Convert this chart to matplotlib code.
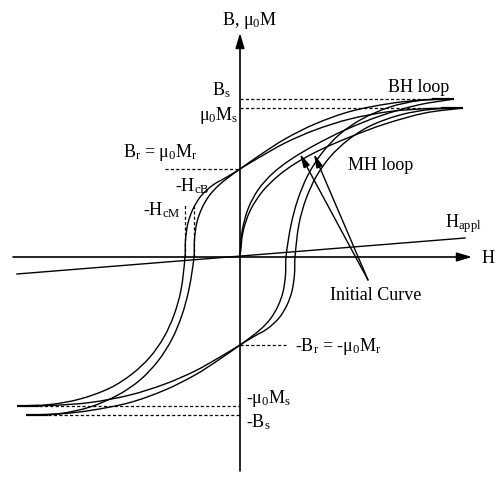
import numpy as np
import matplotlib
matplotlib.use("Agg")
import matplotlib.pyplot as plt
from matplotlib.path import Path
from matplotlib.patches import PathPatch

plt.rcParams["font.family"] = ["Liberation Serif", "DejaVu Serif"]
plt.rcParams["mathtext.fontset"] = "custom"
plt.rcParams["mathtext.rm"] = "Liberation Serif"
plt.rcParams["mathtext.it"] = "Liberation Serif:italic"

# Characteristic values of the two loops (H and B in drawing units)
H_MAX_M, SAT_M = 223, 149      # MH loop: saturation mu0*Ms
H_MAX_B, SAT_B = 214, 158      # BH loop: saturation Bs
B_R = 88                       # remanence Br = mu0*Mr
HC_M, HC_B = 55, 46            # coercive fields HcM, HcB

# Descending (upper) branches, H increasing
h_mh_up = [-223, -190, -160, -130, -108, -90, -76, -66, -59, -55,
           -54.5, -52, -47, -39, -27, -13, 0, 20, 45, 75, 110, 150, 190, 223]
b_mh_up = [-149, -147.5, -142, -131, -117, -100, -80, -58, -33, 0,
           17, 34, 48, 61, 72, 80, 88, 100, 114, 127, 138, 145.5, 148.5, 149]

h_bh_up = [-214, -180, -150, -122, -100, -82, -68, -58, -51, -46,
           -45.5, -43, -38, -31, -22, -11, 0, 20, 45, 75, 110, 150, 185, 214]
b_bh_up = [-158, -156.5, -150, -138, -123, -104, -82, -58, -32, 0,
           18, 35, 49, 61, 71, 80, 88, 102, 118, 133, 145.5, 153.5, 157.3, 158]

# Initial magnetisation curves
h_mh_init = [0, 3, 10, 22, 38, 56, 80, 110, 145, 185, 223]
b_mh_init = [0, 25, 46, 65, 81, 94, 107, 120, 133, 144, 149]
h_bh_init = [0, 2, 8, 18, 32, 50, 75, 105, 140, 178, 214]
b_bh_init = [0, 25, 48, 67, 83, 97, 112, 127, 141, 152, 158]

# Applied field line end points
h_appl = [-223, 225]
b_appl = [-17, 19]


def smooth_path(xs, ys):
    """Cubic Bezier path through every given point (chord-length tangents)."""
    p = np.column_stack([xs, ys]).astype(float)
    n = len(p)
    d = np.hypot(*np.diff(p, axis=0).T)
    t = np.zeros_like(p)
    t[0] = (p[1] - p[0]) / d[0]
    t[-1] = (p[-1] - p[-2]) / d[-1]
    for i in range(1, n - 1):
        t[i] = (p[i + 1] - p[i - 1]) / (d[i - 1] + d[i])
    verts = [p[0]]
    codes = [Path.MOVETO]
    for i in range(n - 1):
        verts += [p[i] + t[i] * d[i] / 3, p[i + 1] - t[i + 1] * d[i] / 3, p[i + 1]]
        codes += [Path.CURVE4] * 3
    return Path(verts, codes)


fig = plt.figure(figsize=(5.0, 4.79), dpi=100)
ax = fig.add_axes([0, 0, 1, 1])
ax.set_xlim(-240, 260)
ax.set_ylim(-222, 257)
ax.axis("off")

LW = 1.0
for hs, bs in [(h_mh_up, b_mh_up), (h_bh_up, b_bh_up)]:
    ax.add_patch(PathPatch(smooth_path(hs, bs), fill=False, lw=LW, color="k"))
    # ascending branch by point symmetry
    ax.add_patch(PathPatch(smooth_path([-h for h in hs], [-b for b in bs]),
                           fill=False, lw=LW, color="k"))
for hs, bs in [(h_mh_init, b_mh_init), (h_bh_init, b_bh_init)]:
    ax.add_patch(PathPatch(smooth_path(hs, bs), fill=False, lw=LW, color="k"))

# saturation end caps
CAP = 22
ax.plot([H_MAX_B - CAP, H_MAX_B], [SAT_B, SAT_B], color="k", lw=1.6, solid_capstyle="butt")
ax.plot([H_MAX_M - CAP, H_MAX_M], [SAT_M, SAT_M], color="k", lw=1.6, solid_capstyle="butt")
ax.plot([-H_MAX_B, -H_MAX_B + CAP], [-SAT_B, -SAT_B], color="k", lw=1.6, solid_capstyle="butt")
ax.plot([-H_MAX_M, -H_MAX_M + CAP], [-SAT_M, -SAT_M], color="k", lw=1.6, solid_capstyle="butt")

# axes with arrows
akw = dict(arrowstyle="-|>,head_length=0.9,head_width=0.27", color="k", lw=1.2,
           shrinkA=0, shrinkB=0, mutation_scale=10)
ax.annotate("", xy=(0, 224), xytext=(0, -214), arrowprops=akw)
ax.annotate("", xy=(232, 0), xytext=(-227, 0), arrowprops=akw)

# applied field line
ax.plot(h_appl, b_appl, color="k", lw=LW)

# dashed guide lines
dkw = dict(color="k", lw=0.9, ls=(0, (2.5, 1.8)))
ax.plot([0, H_MAX_B - CAP], [SAT_B, SAT_B], **dkw)
ax.plot([0, H_MAX_M - CAP], [SAT_M, SAT_M], **dkw)
ax.plot([-75, 0], [B_R, B_R], **dkw)
ax.plot([0, 48], [-B_R, -B_R], **dkw)
ax.plot([-H_MAX_M + CAP, 0], [-SAT_M, -SAT_M], **dkw)
ax.plot([-H_MAX_B + CAP, 0], [-SAT_B, -SAT_B], **dkw)
ax.plot([-HC_B, -HC_B], [0, 53], **dkw)
ax.plot([-HC_M, -HC_M], [0, 53], **dkw)

# arrows to the initial curves
ikw = dict(arrowstyle="-|>,head_length=0.8,head_width=0.2", color="k", lw=1.0,
           shrinkA=0, shrinkB=0, mutation_scale=10)
ax.annotate("", xy=(60, 103), xytext=(128, -23), arrowprops=ikw)
ax.annotate("", xy=(74, 103), xytext=(128, -23), arrowprops=ikw)

FS = 13
tkw = dict(fontsize=FS, va="baseline")
ax.text(-18, 232, "B, μ$_0$M", ha="left", **tkw)
ax.text(-9, 162, "B$_\\mathrm{s}$", ha="right", **tkw)
ax.text(-2, 137, "μ$_0$M$_\\mathrm{s}$", ha="right", **tkw)
ax.text(-117, 100, "B$_\\mathrm{r}$ = μ$_0$M$_\\mathrm{r}$", ha="left", **tkw)
ax.text(-65, 66, "-H$_\\mathrm{cB}$", ha="left", **tkw)
ax.text(-97, 42, "-H$_\\mathrm{cM}$", ha="left", **tkw)
ax.text(148, 165, "BH loop", ha="left", **tkw)
ax.text(108, 87, "MH loop", ha="left", **tkw)
ax.text(205, 30, "H$_\\mathrm{appl}$", ha="left", **tkw)
ax.text(242, -6, "H", ha="left", **tkw)
ax.text(90, -43, "Initial Curve", ha="left", **tkw)
ax.text(55, -94, "-B$_\\mathrm{r}$ = -μ$_0$M$_\\mathrm{r}$", ha="left", **tkw)
ax.text(6, -146, "-μ$_0$M$_\\mathrm{s}$", ha="left", **tkw)
ax.text(6, -170, "-B$_\\mathrm{s}$", ha="left", **tkw)

fig.savefig("out.png", dpi=100)
